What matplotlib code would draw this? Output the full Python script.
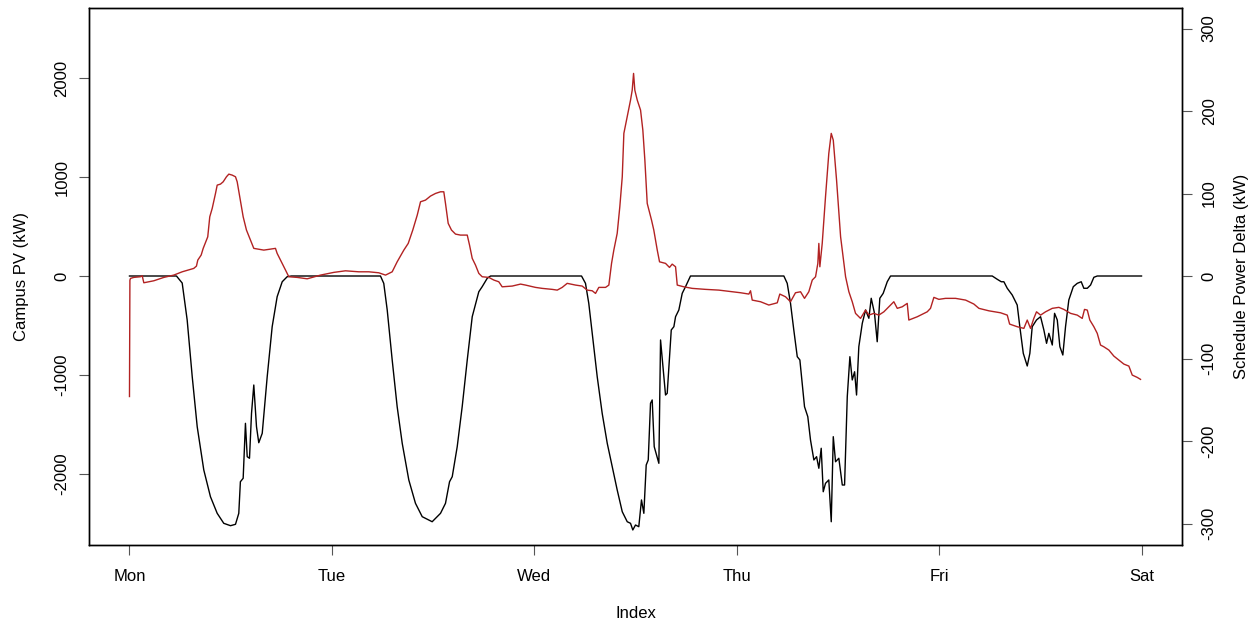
import matplotlib
matplotlib.use("Agg")
import matplotlib.pyplot as plt

plt.rcParams['font.family'] = ['Liberation Sans', 'DejaVu Sans']

# Campus PV output (kW), hours from Monday 00:00
pv_hours = [0, 5.57, 6.25, 6.84, 7.44, 8.03, 8.81, 9.60, 10.40, 11.18, 11.98, 12.57,
            12.96, 13.15, 13.48, 13.75, 13.96, 14.23, 14.47, 14.74, 15.06, 15.33, 15.74,
            16.33, 16.92, 17.51, 18.11, 18.70, 19.2,
            29.76, 30.15, 30.56, 31.15, 31.74, 32.34, 33.12, 33.91, 34.71, 35.89, 36.88,
            37.47, 37.95, 38.27, 38.86, 39.45, 40.05, 40.64, 41.42, 41.82, 42.42, 42.81,
            53.6, 54.07, 54.46, 54.87, 55.46, 56.05, 56.65, 57.24, 57.83, 58.43, 59.02,
            59.41, 59.68, 60.0, 60.39, 60.71, 60.99, 61.27, 61.51, 61.78, 61.98, 62.22,
            62.77, 62.97, 63.56, 63.76, 64.24, 64.55, 64.75, 65.14, 65.54, 65.93, 66.52,
            77.59, 77.99, 78.38, 78.77, 79.18, 79.49, 79.77, 80.04, 80.43, 80.75, 81.15,
            81.47, 81.74, 82.02, 82.26, 82.53, 82.92, 83.21, 83.45, 83.72, 84.11, 84.52,
            84.79, 85.11, 85.42, 85.70, 85.98, 86.21, 86.48, 86.89, 87.28, 87.67, 87.95,
            88.34, 88.66, 88.97, 89.37, 89.85, 90.24,
            102.30, 102.89, 103.37, 103.68, 104.08, 104.67, 105.26, 105.57, 105.98, 106.45,
            106.76, 107.04, 107.55, 108.03, 108.42, 108.74, 109.01, 109.42, 109.69, 110.01,
            110.32, 110.67, 110.99, 111.38, 111.91, 112.38, 112.85, 113.16, 113.57, 113.96,
            114.35, 114.75, 120]
pv_kw = [0, 0, -71, -444, -1017, -1522, -1959, -2229, -2397, -2498, -2522, -2508,
         -2397, -2078, -2043, -1488, -1825, -1841, -1387, -1101, -1522, -1684, -1589,
         -1017, -512, -209, -58, -7, 0,
         0, -74, -343, -848, -1320, -1690, -2060, -2296, -2431, -2482, -2397,
         -2296, -2078, -2027, -1724, -1320, -848, -411, -159, -108, -23, 0,
         0, -74, -276, -579, -1017, -1387, -1690, -1926, -2161, -2381, -2482,
         -2498, -2565, -2515, -2532, -2262, -2397, -1909, -1858, -1286, -1252, -1724,
         -1892, -646, -1202, -1185, -545, -512, -411, -343, -175, -108, 0,
         0, -74, -276, -545, -815, -848, -1084, -1320, -1421, -1656, -1858,
         -1825, -1942, -1740, -2179, -2094, -2060, -2482, -1623, -1876, -1841, -2111,
         -2111, -1219, -815, -1050, -967, -1202, -714, -478, -343, -427, -225,
         -377, -664, -225, -175, -58, 0,
         0, -33, -58, -58, -124, -192, -293, -512, -781, -909,
         -781, -512, -444, -411, -545, -680, -579, -697, -377, -444,
         -714, -798, -512, -242, -108, -74, -58, -124, -124, -91,
         -13, 0, 0]

# Schedule power delta (kW), hours from Monday 00:00
delta_hours = [0, 0.05, 0.12, 0.51, 1.30, 1.51, 1.70, 2.88, 4.07, 5.25, 6.25, 7.62, 7.94,
               8.10, 8.50, 8.74, 9.28, 9.52, 9.81, 10.20, 10.40, 10.79, 11.11, 11.50, 11.78,
               12.18, 12.57, 12.77, 13.08, 13.48, 13.87, 14.35, 14.74, 15.93, 17.31, 17.51,
               17.91, 18.50, 18.89, 19.89, 21.07, 22.65, 24.23,
               25.61, 27.19, 28.38, 29.56, 30.36, 31.15, 31.74, 32.53, 33.05, 33.59, 34.12,
               34.51, 35.10, 35.69, 36.29, 36.88, 37.27, 37.47, 37.79, 38.18, 38.66, 39.25,
               40.05, 40.32, 40.64, 41.03, 41.42, 41.82, 42.61, 43.20, 43.79, 44.19, 45.38,
               46.37,
               46.96, 48.14, 48.94, 50.12, 50.72, 51.31, 51.90, 52.89, 53.68, 54.27, 54.87,
               55.26, 55.65, 56.45, 56.84, 57.16, 57.43, 57.83, 58.14, 58.43, 58.62, 59.02,
               59.41, 59.61, 59.77, 59.92, 60.21, 60.60, 60.87, 61.11, 61.39, 61.90, 62.17,
               62.58, 62.85, 63.56, 64.03, 64.35, 64.75, 64.95, 65.73, 66.73, 68.30, 69.88,
               71.47,
               72.46, 73.44, 73.64, 73.84, 74.83, 75.81, 76.81, 77.11, 77.79, 78.38, 78.97,
               79.57, 80.04, 80.55, 80.96, 81.35, 81.62, 81.74, 81.86, 82.14, 82.53, 82.92,
               83.21, 83.45, 83.84, 84.32, 84.91, 85.30, 85.70, 86.09, 86.68, 87.28, 87.67,
               88.26, 88.85, 89.45, 90.04, 90.63, 91.04, 91.63, 92.22, 92.41, 93.41, 94.59,
               94.98, 95.38, 95.97, 96.76, 97.95, 99.14, 100.12, 100.72, 101.90, 103.29,
               104.08, 104.36, 105.27, 106.05, 106.45, 106.84, 107.23, 107.55, 108.03, 108.62,
               109.42, 110.20, 110.79, 111.59, 112.38, 112.97, 113.24, 113.57, 113.87, 114.35,
               114.75, 115.14, 115.53, 116.13, 116.72, 117.31, 117.91, 118.50, 118.90, 119.49,
               119.88]
delta_kw = [-146, -5, -2.8, -1.6, -0.8, 0.4, -8.1, -5.7, -1.6, 1.2, 5.2, 9.3, 12.1,
            19.4, 25.5, 33.6, 47.6, 71.9, 82.1, 100.2, 110.3, 111.5, 114.3, 120.4, 123.6,
            122.4, 120.4, 114.3, 96.1, 71.9, 55.8, 43.6, 33.6, 31.5, 33.6, 27.5,
            19.4, 7.3, -0.8, -1.6, -3.3, 1.2, 4.5,
            6.4, 5.2, 5.2, 4.0, 1.2, 5.2, 17.3, 31.5, 39.6, 55.8, 73.9,
            90.1, 92.1, 97.0, 100.2, 102.2, 102.2, 88.1, 63.9, 55.8, 50.9, 49.7,
            49.7, 37.6, 21.5, 13.3, 3.3, -0.8, -1.6, -4.8, -6.9, -13.0, -12.1,
            -9.7,
            -10.9, -13.7, -14.9, -16.1, -17.0, -13.7, -8.8, -10.9, -12.1, -17.0, -17.8,
            -21.0, -13.7, -13.7, -10.9, 15.4, 31.5, 51.8, 84.0, 120.4, 173.0, 193.1,
            213.3, 225.4, 245.7, 225.4, 213.3, 201.2, 177.0, 140.6, 88.1, 67.9, 55.8,
            31.5, 17.3, 15.4, 10.5, 14.5, 11.3, -10.9, -13.0, -14.9, -16.1, -17.0,
            -19.0,
            -20.2, -21.8, -17.8, -29.1, -31.1, -35.1, -32.4, -21.8, -25.1, -31.1, -20.2,
            -19.0, -27.0, -19.0, -4.8, -0.8, 15.4, 39.6, 11.3, 39.6, 96.1, 148.7,
            173.0, 164.8, 116.4, 47.6, -0.8, -19.0, -31.1, -45.2, -51.3, -41.2, -47.3,
            -45.2, -47.3, -43.3, -37.2, -31.1, -39.1, -37.2, -33.1, -53.3, -49.3, -43.3,
            -39.1, -25.8, -28.2, -27.0, -27.0, -29.1, -33.9, -39.1, -42.1, -44.5,
            -47.3, -58.2, -61.4, -63.4, -53.3, -63.4, -51.3, -43.3, -47.3, -43.3,
            -39.1, -37.9, -40.4, -45.2, -47.3, -51.3, -40.4, -41.2, -53.3, -61.4,
            -69.4, -83.6, -85.7, -89.7, -97.0, -101.8, -106.7, -109.1, -120.0, -122.8,
            -125.2]

day_ticks = [0, 24, 48, 72, 96, 120]
day_labels = ['Mon', 'Tue', 'Wed', 'Thu', 'Fri', 'Sat']
pv_ticks = [-2000, -1000, 0, 1000, 2000]
delta_ticks = [-300, -200, -100, 0, 100, 200, 300]

fig = plt.figure(figsize=(12.6, 6.23), dpi=100)
ax = fig.add_axes([89 / 1260, 1 - 545 / 623, 1093 / 1260, 537 / 623])

ax.plot(pv_hours, pv_kw, color='black', linewidth=1.0)
ax.set_xlim(-4.8, 124.8)
ax.set_ylim(-2717, 2707)
ax.set_xticks(day_ticks)
ax.set_xticklabels(day_labels)
ax.set_yticks(pv_ticks)
ax.set_yticklabels([str(t) for t in pv_ticks], rotation=90, va='center')
ax.tick_params(axis='both', direction='out', length=7.2, width=0.8,
               color='#555555', labelsize=12)
ax.tick_params(axis='x', pad=10)
ax.tick_params(axis='y', pad=7)
ax.set_xlabel('Index', fontsize=12)
ax.xaxis.set_label_coords(0.5, -0.113)
ax.set_ylabel('Campus PV (kW)', fontsize=12)
ax.yaxis.set_label_coords(-0.055, 0.5)

# second series on its own scale, drawn on top
ax2 = ax.twinx()
ax2.plot(delta_hours, delta_kw, color='#B22222', linewidth=1.0)
ax2.set_ylim(-326, 325)
ax2.set_yticks(delta_ticks)
ax2.set_yticklabels([str(t) for t in delta_ticks], rotation=90, va='center')
ax2.tick_params(axis='y', direction='out', length=7.2, width=0.8,
                color='#555555', labelsize=12, pad=7)
ax2.set_ylabel('Schedule Power Delta (kW)', fontsize=12)
ax2.yaxis.set_label_coords(1.048, 0.5)

for a in (ax, ax2):
    for s in a.spines.values():
        s.set_linewidth(1.0)
        s.set_color('black')

fig.savefig('out.png', dpi=100)
